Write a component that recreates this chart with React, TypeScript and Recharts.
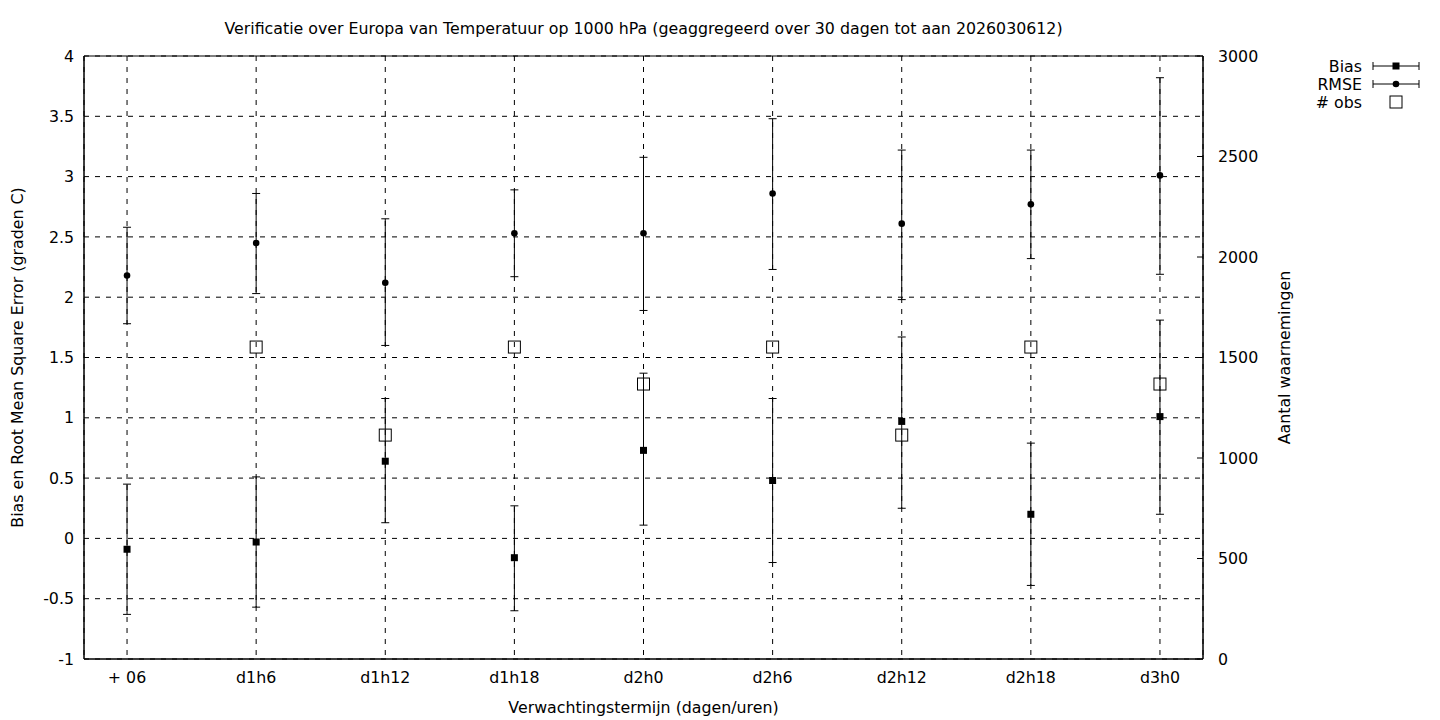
import {
  CartesianGrid,
  ComposedChart,
  ErrorBar,
  ReferenceArea,
  Scatter,
  XAxis,
  YAxis,
} from "recharts";

const categories = ["+ 06", "d1h6", "d1h12", "d1h18", "d2h0", "d2h6", "d2h12", "d2h18", "d3h0"];

// bias en foutmarges (onder / boven)
const biasValues = [-0.09, -0.03, 0.64, -0.16, 0.73, 0.48, 0.97, 0.2, 1.01];
const biasLow = [-0.63, -0.57, 0.13, -0.6, 0.11, -0.2, 0.25, -0.39, 0.2];
const biasHigh = [0.45, 0.51, 1.16, 0.27, 1.37, 1.16, 1.67, 0.79, 1.81];

const rmseValues = [2.18, 2.45, 2.12, 2.53, 2.53, 2.86, 2.61, 2.77, 3.01];
const rmseLow = [1.78, 2.03, 1.6, 2.17, 1.89, 2.23, 1.98, 2.32, 2.19];
const rmseHigh = [2.58, 2.86, 2.65, 2.89, 3.16, 3.48, 3.22, 3.22, 3.82];

const obsValues: (number | null)[] = [null, 1552, 1114, 1552, 1368, 1552, 1114, 1552, 1368];

const leftTicks = [-1, -0.5, 0, 0.5, 1, 1.5, 2, 2.5, 3, 3.5, 4];
const rightTicks = [0, 500, 1000, 1500, 2000, 2500, 3000];

const FONT = "DejaVu Sans, sans-serif";
const FS = 15.8;
const X_DOMAIN = [-1 / 3, 8 + 1 / 3];

const biasData = biasValues.map((v, i) => ({
  x: i,
  y: v,
  err: [v - biasLow[i], biasHigh[i] - v],
}));
const rmseData = rmseValues.map((v, i) => ({
  x: i,
  y: v,
  err: [v - rmseLow[i], rmseHigh[i] - v],
}));
const obsData = obsValues
  .map((v, i) => ({ x: i, y: v }))
  .filter((d) => d.y !== null);

const SquareShape = ({ cx, cy }: any) => (
  <rect x={cx - 3.5} y={cy - 3.5} width={7} height={7} fill="#000" />
);
const DotShape = ({ cx, cy }: any) => <circle cx={cx} cy={cy} r={3.3} fill="#000" />;
const BoxShape = ({ cx, cy }: any) => (
  <rect x={cx - 6} y={cy - 6} width={12} height={12} fill="none" stroke="#000" strokeWidth={1} />
);

function LegendBox() {
  const row = (label: string, y: number, kind: string) => (
    <g key={label}>
      <text x={1362} y={y} textAnchor="end" dominantBaseline="central" fontSize={FS} fontFamily={FONT}>
        {label}
      </text>
      {kind !== "obs" && (
        <g stroke="#000" strokeWidth={1}>
          <line x1={1373} x2={1419} y1={y} y2={y} />
          <line x1={1373} x2={1373} y1={y - 4} y2={y + 4} />
          <line x1={1419} x2={1419} y1={y - 4} y2={y + 4} />
        </g>
      )}
      {kind === "bias" && <rect x={1392.5} y={y - 3.5} width={7} height={7} />}
      {kind === "rmse" && <circle cx={1396} cy={y} r={3.3} />}
      {kind === "obs" && (
        <rect x={1390} y={y - 6} width={12} height={12} fill="none" stroke="#000" />
      )}
    </g>
  );
  return (
    <svg
      width={1440}
      height={720}
      style={{ position: "absolute", left: 0, top: 0, pointerEvents: "none" }}
    >
      {row("Bias", 66, "bias")}
      {row("RMSE", 84, "rmse")}
      {row("# obs", 102, "obs")}
    </svg>
  );
}

export default function App() {
  return (
    <div style={{ position: "absolute", left: 0, top: 0, width: 1440, height: 720, background: "#fff" }}>
      <div
        style={{
          position: "absolute",
          top: 19,
          left: 84,
          width: 1119,
          textAlign: "center",
          fontFamily: FONT,
          fontSize: FS,
        }}
      >
        Verificatie over Europa van Temperatuur op 1000 hPa (geaggregeerd over 30 dagen tot aan 2026030612)
      </div>
      <ComposedChart
        width={1440}
        height={720}
        margin={{ top: 56, right: 177, bottom: 0, left: 0 }}
        style={{ fontFamily: FONT }}
      >
        <CartesianGrid
          xAxisId="bottom"
          yAxisId="left"
          stroke="#000"
          strokeDasharray="5 6"
          strokeWidth={1}
        />
        <XAxis
          xAxisId="bottom"
          dataKey="x"
          type="number"
          domain={X_DOMAIN}
          ticks={[0, 1, 2, 3, 4, 5, 6, 7, 8]}
          tickFormatter={(v: number) => categories[v]}
          interval={0}
          height={61}
          stroke="#000"
          tickLine={false}
          tickSize={0}
          tickMargin={13}
          tick={{ fill: "#000", fontSize: FS, fontFamily: FONT }}
          label={{
            value: "Verwachtingstermijn (dagen/uren)",
            position: "insideBottom",
            offset: 7,
            fill: "#000",
            fontSize: FS,
            fontFamily: FONT,
          }}
        />
        <YAxis
          yAxisId="left"
          type="number"
          domain={[-1, 4]}
          ticks={leftTicks}
          interval={0}
          width={84}
          stroke="#000"
          tickLine={false}
          tickSize={0}
          tickMargin={10}
          tick={{ fill: "#000", fontSize: FS, fontFamily: FONT }}
          label={{
            value: "Bias en Root Mean Square Error (graden C)",
            angle: -90,
            position: "insideLeft",
            offset: 17,
            style: { textAnchor: "middle" },
            fill: "#000",
            fontSize: FS,
            fontFamily: FONT,
          }}
        />
        <YAxis
          yAxisId="right"
          orientation="right"
          type="number"
          domain={[0, 3000]}
          ticks={rightTicks}
          interval={0}
          width={60}
          stroke="#000"
          tickLine={{ stroke: "#000" }}
          tickSize={-6}
          tickMargin={21}
          tick={{ fill: "#000", fontSize: FS, fontFamily: FONT, textAnchor: "start" }}
          label={{
            value: "Aantal waarnemingen",
            angle: -90,
            position: "insideRight",
            offset: -21,
            style: { textAnchor: "middle" },
            fill: "#000",
            fontSize: FS,
            fontFamily: FONT,
          }}
        />
        <ReferenceArea
          xAxisId="bottom"
          yAxisId="left"
          x1={X_DOMAIN[0]}
          x2={X_DOMAIN[1]}
          y1={-1}
          y2={4}
          fill="none"
          stroke="#000"
          strokeWidth={1}
          ifOverflow="visible"
        />
        <Scatter
          name="Bias"
          data={biasData}
          xAxisId="bottom"
          yAxisId="left"
          dataKey="y"
          shape={SquareShape}
          isAnimationActive={false}
        >
          <ErrorBar dataKey="err" direction="y" width={4} stroke="#000" strokeWidth={1} />
        </Scatter>
        <Scatter
          name="RMSE"
          data={rmseData}
          xAxisId="bottom"
          yAxisId="left"
          dataKey="y"
          shape={DotShape}
          isAnimationActive={false}
        >
          <ErrorBar dataKey="err" direction="y" width={4} stroke="#000" strokeWidth={1} />
        </Scatter>
        <Scatter
          name="# obs"
          data={obsData}
          xAxisId="bottom"
          yAxisId="right"
          dataKey="y"
          shape={BoxShape}
          isAnimationActive={false}
        />
      </ComposedChart>
      <LegendBox />
    </div>
  );
}
